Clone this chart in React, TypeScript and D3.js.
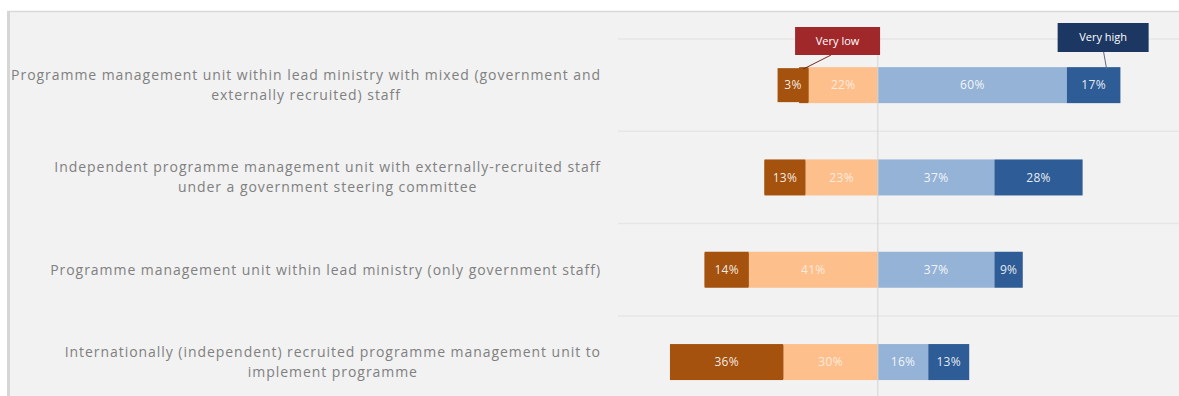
import React from "react";
import * as d3 from "d3";

const categories: string[][] = [
  ["Programme management unit within lead ministry with mixed (government and", "externally recruited) staff"],
  ["Independent programme management unit with externally-recruited staff", "under a government steering committee"],
  ["Programme management unit within lead ministry (only government staff)"],
  ["Internationally (independent) recruited programme management unit to", "implement programme"],
];
const seriesNames = ["Very low", "Low", "High", "Very high"];
const veryLow = [3, 13, 14, 36];
const low = [22, 23, 41, 30];
const high = [60, 37, 37, 16];
const veryHigh = [17, 28, 9, 13];
const colors = ["#a4520d", "#fdbf8c", "#95b3d7", "#2e5c96"];

const W = 1179;
const H = 396;
const FONT = "'Open Sans', 'Liberation Sans', sans-serif";
const LABEL_SIZE = 14;
const LABEL_SPACING = 0.95;

function measure(text: string, size: number, spacing: number): number {
  if (typeof document === "undefined") return text.length * size * 0.5;
  const c = document.createElement("canvas");
  const ctx = c.getContext("2d")!;
  ctx.font = `${size}px 'Open Sans'`;
  return ctx.measureText(text).width + spacing * text.length;
}

export default function App() {
  const x = d3.scaleLinear().domain([-82.5, 95.6]).range([618, 1179]);
  const y = d3.scaleBand<number>().domain([0, 1, 2, 3]).range([39, 39 + 4 * 92.3]).padding(0);
  const barH = 36;
  const labelRight = 601;

  const segs = categories.map((_, i) => {
    const starts = [-(veryLow[i] + low[i]), -low[i], 0, high[i]];
    const vals = [veryLow[i], low[i], high[i], veryHigh[i]];
    return vals.map((v, k) => ({ k, v, x0: x(starts[k]), x1: x(starts[k] + v) }));
  });

  const gridYs = [0, 1, 2, 3].map((i) => y(i)!);

  const r0 = segs[0];
  const vlRight = r0[0].x1;
  const vlBoxW = Math.max(r0[0].x1 - r0[0].x0, 31);
  const vlLabelX = vlRight - vlBoxW / 2;
  const vhLabelX = (r0[3].x0 + r0[3].x1) / 2;
  const barTop0 = y(0)! + y.bandwidth() / 2 - barH / 2;

  return (
    <div style={{ position: "fixed", left: 0, top: 0 }}>
      <svg width={W} height={H} style={{ display: "block", fontFamily: FONT }}>
        <rect x={0} y={0} width={W} height={H} fill="#ffffff" />
        <rect x={8} y={11} width={W - 8} height={H} fill="#f2f2f2" />
        <line x1={7} x2={W} y1={11.5} y2={11.5} stroke="#d9d9d9" strokeWidth={1.5} />
        <line x1={8.5} x2={8.5} y1={11} y2={H} stroke="#d6d6d6" strokeWidth={3} />

        {gridYs.map((gy, i) => (
          <line key={i} x1={618} x2={W} y1={gy} y2={gy} stroke="#e6e6e6" strokeWidth={1.5} />
        ))}

        {segs.map((row, i) => {
          const top = y(i)! + y.bandwidth() / 2 - barH / 2;
          return (
            <g key={i}>
              {row.map((s) => (
                <rect key={s.k} x={s.x0} y={top} width={s.x1 - s.x0} height={barH} fill={colors[s.k]} />
              ))}
            </g>
          );
        })}

        <line x1={x(0)} x2={x(0)} y1={39} y2={H} stroke="#d4d4d4" strokeWidth={1} />

        {segs.map((row, i) => {
          const cy = y(i)! + y.bandwidth() / 2;
          const top = cy - barH / 2;
          return (
            <g key={"l" + i}>
              {row.map((s) => {
                let cx = (s.x0 + s.x1) / 2;
                let bg = null;
                if (s.k === 0) {
                  const bw = Math.max(s.x1 - s.x0, 31);
                  cx = s.x1 - bw / 2;
                  bg = <rect x={s.x1 - bw} y={top + 1} width={bw} height={barH - 2} fill={colors[0]} />;
                }
                return (
                  <g key={s.k}>
                    {bg}
                    <text
                      x={cx}
                      y={cy}
                      dy="0.35em"
                      textAnchor="middle"
                      fontSize={12}
                      letterSpacing={0.3}
                      fill="#ffffff"
                      fillOpacity={s.k === 1 ? 0.7 : 0.9}
                    >
                      {s.v}%
                    </text>
                  </g>
                );
              })}
            </g>
          );
        })}

        {categories.map((lines, i) => {
          const cy = y(i)! + y.bandwidth() / 2;
          const widths = lines.map((l) => measure(l, LABEL_SIZE, LABEL_SPACING));
          const maxW = Math.max(...widths);
          const cx = labelRight - maxW / 2;
          const lh = 20;
          const y0 = cy - ((lines.length - 1) * lh) / 2;
          return (
            <text
              key={"c" + i}
              textAnchor="middle"
              fontSize={LABEL_SIZE}
              letterSpacing={LABEL_SPACING}
              fill="#808080"
            >
              {lines.map((l, j) => (
                <tspan key={j} x={cx} y={y0 + j * lh} dy="0.35em">
                  {l}
                </tspan>
              ))}
            </text>
          );
        })}

        {/* series callouts */}
        <line x1={vlLabelX + 38} y1={55} x2={vlLabelX + 10} y2={barTop0 + 2} stroke="#7a2a22" strokeWidth={1} />
        <rect x={vlLabelX + 2} y={27} width={85} height={28} fill="#a0282b" />
        <text x={vlLabelX + 2 + 42.5} y={41} dy="0.35em" textAnchor="middle" fontSize={11} fill="#ffffff">
          {seriesNames[0]}
        </text>

        <line x1={vhLabelX + 10} y1={52} x2={vhLabelX + 13} y2={barTop0 + 2} stroke="#5a6a88" strokeWidth={1} />
        <rect x={vhLabelX - 36} y={23} width={91} height={29} fill="#1d3763" />
        <text x={vhLabelX - 36 + 45.5} y={37.5} dy="0.35em" textAnchor="middle" fontSize={11} fill="#ffffff">
          {seriesNames[3]}
        </text>
      </svg>
    </div>
  );
}
